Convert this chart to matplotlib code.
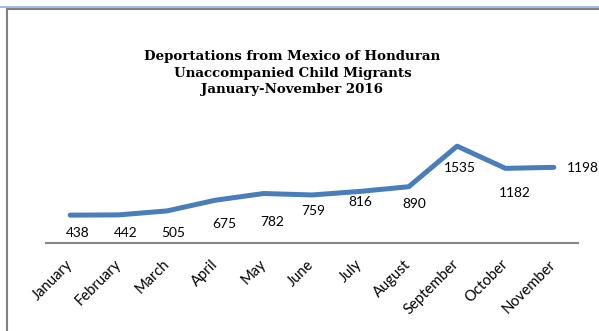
import matplotlib.pyplot as plt
from matplotlib.lines import Line2D

months = ["January", "February", "March", "April", "May", "June",
          "July", "August", "September", "October", "November"]
deportations = [438, 442, 505, 675, 782, 759, 816, 890, 1535, 1182, 1198]

# label placement around each point, in pixels (dx, dy)
label_offsets = [(8, -18), (7, -18), (6, -22), (9, -24), (9, -28), (1, -16),
                 (0, -11), (6, -17), (3, -22), (9, -25), (29, -1)]

fig = plt.figure(figsize=(5.99, 3.31), dpi=100)
ax = fig.add_axes([46 / 599, 0.2668, 532 / 599, 0.38])

x = range(len(months))
ax.plot(x, deportations, color="#4A7EBB", lw=3.6, solid_capstyle="round",
        solid_joinstyle="round")

for i, (v, off) in enumerate(zip(deportations, label_offsets)):
    ax.annotate(str(v), (i, v), xytext=off, textcoords="offset pixels",
                ha="center", va="center", fontsize=9.9, family="Lato",
                color="#000000")

ax.set_xlim(-0.5, len(months) - 0.5)
ax.set_ylim(0, 2000)
ax.set_yticks([])
ax.set_xticks(list(x))
ax.set_xticklabels(months, rotation=45, ha="right", va="center",
                   rotation_mode="anchor", fontsize=10.6, family="Lato")
ax.tick_params(axis="x", length=0, pad=14)
for s in ["top", "left", "right"]:
    ax.spines[s].set_visible(False)
ax.spines["bottom"].set_color("#868686")
ax.spines["bottom"].set_linewidth(1.5)
ax.patch.set_alpha(0)

fig.text(292.5 / 599, 1 - 73 / 331,
         "Deportations from Mexico of Honduran\nUnaccompanied Child Migrants\nJanuary-November 2016",
         ha="center", va="center", fontsize=9.6, fontweight="bold",
         family="DejaVu Serif", linespacing=1.38)

# page frame lines
W, H = 599, 331
fig.add_artist(Line2D([0, 1], [1 - 7 / H, 1 - 7 / H], color="#8DB3E2", lw=1.2))
fig.add_artist(Line2D([7 / W, 1], [1 - 9 / H, 1 - 9 / H], color="#808080", lw=1.5))
fig.add_artist(Line2D([7 / W, 7 / W], [0, 1 - 9 / H], color="#808080", lw=1.5))

fig.savefig("out.png", dpi=100)
